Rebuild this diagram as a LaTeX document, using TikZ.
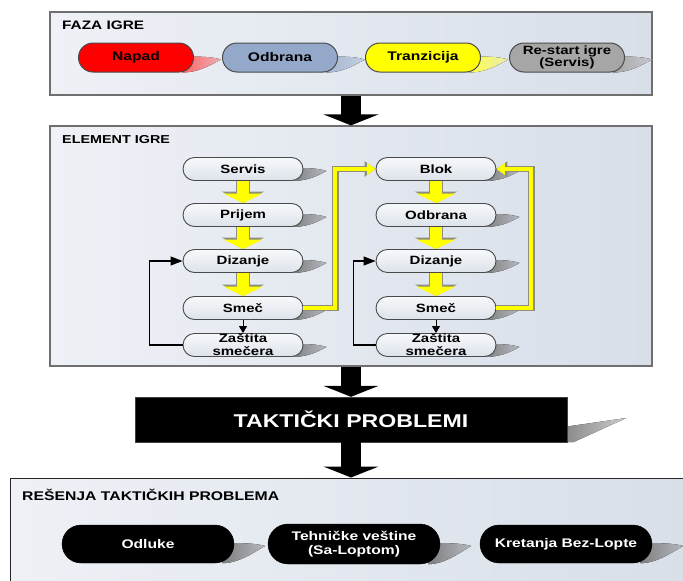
\documentclass[tikz,border=0pt]{standalone}
\usepackage{fontspec}
\setmainfont{Liberation Sans}[FakeStretch=1.25]
\usetikzlibrary{arrows.meta,calc}
\pgfdeclarelayer{back}
\pgfdeclarelayer{shad}
\pgfsetlayers{back,shad,main}
\definecolor{pnlA}{HTML}{EEF1F6}
\definecolor{pnlB}{HTML}{D8DFE9}
\definecolor{pnlLine}{HTML}{6F6F6F}
\definecolor{nodeTop}{HTML}{F7F9FB}
\definecolor{nodeBot}{HTML}{DDE3EB}
\definecolor{nodeLine}{HTML}{4A4A4A}
\definecolor{napadC}{HTML}{FF0000}
\definecolor{odbC}{HTML}{94A9CA}
\definecolor{tranC}{HTML}{FFFF00}
\definecolor{resC}{HTML}{A6A6A6}
\definecolor{shGray}{HTML}{7E7E7E}
\definecolor{ylw}{HTML}{FFFF00}
\definecolor{ylwLine}{HTML}{8E8E7E}
\newcommand\pillsh[3]{%
  \colorlet{shtmp}{#2}%
  \fill[left color=shtmp, right color=shtmp!40!pnlB]
    ($(#1.east)+(-12,-1)$)
    .. controls ($(#1.east)+(6,-1)$) and ($(#1.east)+(#3-10,-1)$) ..
    ($(#1.east)+(#3,2)$)
    .. controls ($(#1.east)+(#3-8,6)$) and ($(#1.south east)+(6,0)$) ..
    ($(#1.south east)+(-12,0)$) -- cycle;}
\begin{document}
\begin{tikzpicture}[x=1pt,y=-1pt,
  panel/.style={rectangle, draw=pnlLine, line width=1.3pt, left color=pnlA, right color=pnlB, inner sep=0pt},
  title/.style={inner sep=0pt, font=\bfseries\fontsize{11.5}{12}\selectfont},
  phase/.style={rectangle, rounded corners=14.5pt, draw=nodeLine, line width=1pt, minimum width=115pt, minimum height=29pt, inner sep=0pt, align=center, font=\bfseries\fontsize{12.5}{11.5}\selectfont},
  pill/.style={rectangle, rounded corners=11.5pt, draw=nodeLine, line width=0.9pt, top color=nodeTop, bottom color=nodeBot, minimum width=120pt, minimum height=23pt, inner sep=0pt, font=\bfseries\fontsize{12}{12}\selectfont},
  tbox/.style={rectangle, fill=black, draw=black!75, text=white, minimum width=432pt, minimum height=45pt, font=\bfseries\fontsize{18.5}{18}\selectfont},
  sol/.style={rectangle, rounded corners=19pt, fill=black, draw=black, text=white, inner sep=0pt, align=center, minimum width=172pt, minimum height=38pt, font=\bfseries\fontsize{12.5}{14}\selectfont},
  bk/.style={draw=black, line width=20pt, -{Triangle[width=55pt,length=11pt]}},
  ybA/.style={draw=ylwLine, line width=14.5pt, -{Triangle[width=42pt,length=11.5pt]}},
  ybB/.style={draw=ylw, line width=12pt, -{Triangle[width=39pt,length=9.5pt]}},
  ycA/.style={draw=ylwLine, line width=6.5pt, line join=miter, -{Triangle[width=15pt,length=11pt]}},
  ycB/.style={draw=ylw, line width=4pt, line join=miter, -{Triangle[width=11.5pt,length=8.5pt]}},
  fb/.style={draw=black, line width=1.1pt, -{Triangle[width=9pt,length=12pt]}},
  sm/.style={draw=black, line width=1pt, -{Triangle[width=8pt,length=7pt]}}
]
\useasboundingbox (0,0) rectangle (683,581);
\begin{pgfonlayer}{back}
\node[panel, minimum width=602pt, minimum height=83pt] (pA) at (351,53.5) {};
\node[panel, minimum width=602pt, minimum height=240pt] (pB) at (351,246) {};
\node[panel, draw=black!85, line width=1pt, minimum width=683pt, minimum height=130pt] (pC) at (351.5,543) {};
\end{pgfonlayer}
% titles
\node[title, anchor=west, font=\bfseries\fontsize{12.3}{12}\selectfont] (tA) at (62,25) {FAZA IGRE};
\node[title, anchor=west] (tB) at (62,140) {ELEMENT IGRE};
\node[title, anchor=west, font=\bfseries\fontsize{12.6}{12}\selectfont] (tC) at (22,495) {REŠENJA TAKTIČKIH PROBLEMA};
% phases
\node[phase, fill=napadC] (nap) at (136,57.5) {Napad};
\node[phase, fill=odbC] (odb) at (280,57.5) {Odbrana};
\node[phase, fill=tranC] (tra) at (423,57.5) {Tranzicija};
\node[phase, fill=resC, font=\bfseries\fontsize{12}{11.5}\selectfont] (res) at (567,57.5) {Re-start igre\\(Servis)};
% left column
\node[pill] (lSer) at (243,169) {Servis};
\node[pill] (lPri) at (243,215) {Prijem};
\node[pill] (lDiz) at (243,261) {Dizanje};
\node[pill] (lSme) at (243,308) {Smeč};
\node[pill, label={[inner sep=0pt, align=center, font=\bfseries\fontsize{12}{13}\selectfont]center:Zaštita\\smečera}] (lZas) at (243,345) {};
% right column
\node[pill] (rBlo) at (436,169) {Blok};
\node[pill] (rOdb) at (436,215) {Odbrana};
\node[pill] (rDiz) at (436,261) {Dizanje};
\node[pill] (rSme) at (436,308) {Smeč};
\node[pill, label={[inner sep=0pt, align=center, font=\bfseries\fontsize{12}{13}\selectfont]center:Zaštita\\smečera}] (rZas) at (436,345) {};
% problems
\node[tbox] (tak) at (351,419.5) {TAKTIČKI PROBLEMI};
% solutions
\node[sol] (odl) at (148,544) {Odluke};
\node[sol, minimum height=40pt, rounded corners=20pt] (teh) at (354,544) {Tehničke veštine\\(Sa-Loptom)};
\node[sol] (kre) at (566,544) {Kretanja Bez-Lopte};
% shadows
\begin{pgfonlayer}{shad}
\pillsh{nap}{napadC!60}{27}
\pillsh{odb}{odbC!85}{27}
\pillsh{tra}{tranC!70!white}{27}
\pillsh{res}{resC}{27}
\foreach \nd in {lSer,lPri,lDiz,lSme,lZas,rBlo,rOdb,rDiz,rSme,rZas}{\pillsh{\nd}{shGray}{23}}
\foreach \nd in {odl,teh,kre}{\pillsh{\nd}{shGray}{31}}
\fill[left color=black!45, right color=black!20] ($(tak.east)+(0,7)$) -- ($(tak.east)+(59,-1.5)$) -- ($(tak.south east)+(6,0)$) -- (tak.south east) -- cycle;
\end{pgfonlayer}
% black block arrows
\draw[bk] (pA.south) -- (pB.north);
\draw[bk] (pB.south) -- (tak.north);
\draw[bk] (tak.south) -- (tak.south |- pC.north);
% yellow block arrows
\foreach \a/\b in {lSer/lPri,lPri/lDiz,lDiz/lSme,rBlo/rOdb,rOdb/rDiz,rDiz/rSme}{
  \draw[ybA] (\a.south) -- (\b.north);
  \draw[ybB] (\a.south) -- (\b.north);
}
% yellow connectors
\draw[ycA] (lSme.east) -- ++(32,0) |- (rBlo.west);
\draw[ycB] (lSme.east) -- ++(32,0) |- (rBlo.west);
\draw[ycA] (rSme.east) -- ++(35,0) |- (rBlo.east);
\draw[ycB] (rSme.east) -- ++(35,0) |- (rBlo.east);
% black feedback
\draw[fb] (lZas.west) -- ++(-33,0) |- (lDiz.west);
\draw[fb] (rZas.west) -- ++(-22,0) |- (rDiz.west);
\draw[sm] (lSme.south) -- (lZas.north);
\draw[sm] (rSme.south) -- (rZas.north);
\end{tikzpicture}
\end{document}
